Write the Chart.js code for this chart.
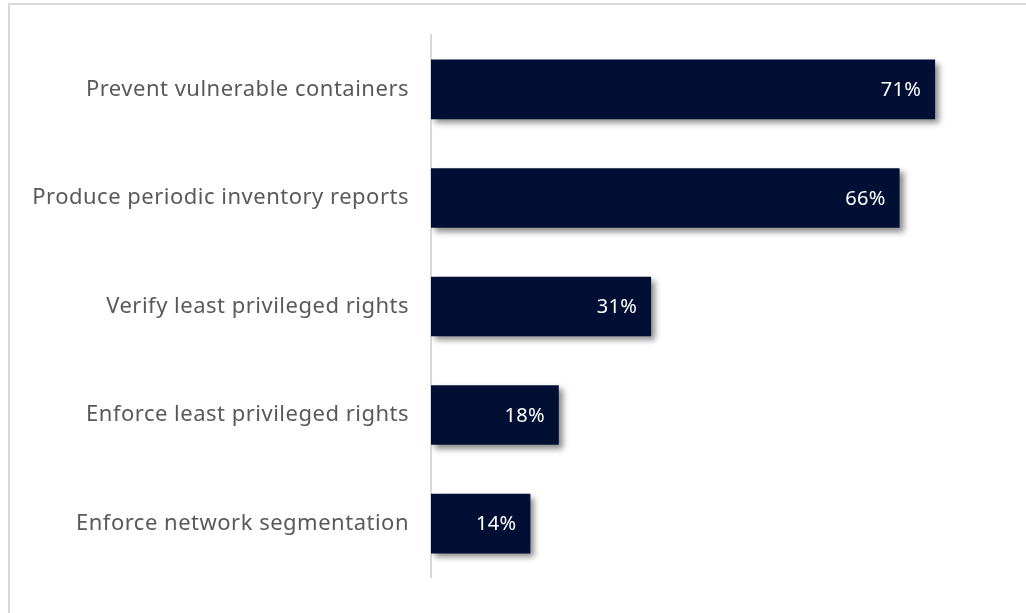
<!DOCTYPE html>
<html>
<head>
<meta charset="utf-8">
<script src="https://cdn.jsdelivr.net/npm/chart.js@4.4.1/dist/chart.umd.min.js"></script>
<style>
    html, body { margin: 0; padding: 0; background: #fff; overflow: hidden; }
    #frame {
        position: absolute; left: 8px; top: 3px; width: 1100px; height: 700px;
        border-left: 2px solid #d9d9d9; border-top: 2px solid #d9d9d9;
    }
    #wrap { position: absolute; left: 0; top: 0; width: 1026px; height: 613px; }
</style>
</head>
<body>
<div id="frame"></div>
<div id="wrap"><canvas id="chart" width="1026" height="613"></canvas></div>
<script>
// Share of respondents per container security practice
const practices = [
    'Prevent vulnerable containers',
    'Produce periodic inventory reports',
    'Verify least privileged rights',
    'Enforce least privileged rights',
    'Enforce network segmentation'
];
const shares = [71, 66, 31, 18, 14];

const AXIS_LEFT = 431;

// Slightly looser tracking for all canvas text
const tracking = {
    id: 'tracking',
    beforeDraw(chart) {
        chart.ctx.letterSpacing = '0.5px';
    }
};

// Soft drop shadow under the bars
const barShadow = {
    id: 'barShadow',
    beforeDatasetsDraw(chart) {
        const ctx = chart.ctx;
        ctx.save();
        ctx.shadowColor = 'rgba(0, 0, 0, 0.45)';
        ctx.shadowBlur = 6;
        ctx.shadowOffsetX = 4;
        ctx.shadowOffsetY = 4;
    },
    afterDatasetsDraw(chart) {
        chart.ctx.restore();
    }
};

// White percentage labels inside the end of each bar
const valueLabels = {
    id: 'valueLabels',
    afterDraw(chart) {
        const ctx = chart.ctx;
        const meta = chart.getDatasetMeta(0);
        ctx.save();
        ctx.letterSpacing = '0.3px';
        ctx.fillStyle = '#ffffff';
        ctx.font = '20px "Noto Sans", sans-serif';
        ctx.textAlign = 'right';
        ctx.textBaseline = 'middle';
        meta.data.forEach((bar, i) => {
            ctx.fillText(shares[i] + '%', bar.x - 14, bar.y + 1);
        });
        ctx.restore();
    }
};

new Chart(document.getElementById('chart'), {
    type: 'bar',
    data: {
        labels: practices,
        datasets: [{
            data: shares,
            backgroundColor: '#010f35',
            borderWidth: 0,
            barPercentage: 0.55,
            categoryPercentage: 1
        }]
    },
    options: {
        indexAxis: 'y',
        responsive: false,
        animation: false,
        layout: { padding: { left: 0, top: 33, bottom: 25, right: 27 } },
        scales: {
            x: {
                display: false,
                min: 0,
                max: 80
            },
            y: {
                afterFit(scale) { scale.width = AXIS_LEFT; },
                grid: { display: false, drawTicks: false },
                border: { display: true, color: '#d9d9d9', width: 2 },
                ticks: {
                    padding: 22,
                    color: '#595959',
                    font: { family: '"Noto Sans", sans-serif', size: 22 }
                }
            }
        },
        plugins: {
            legend: { display: false },
            tooltip: { enabled: false }
        }
    },
    plugins: [tracking, barShadow, valueLabels]
});
</script>
</body>
</html>
